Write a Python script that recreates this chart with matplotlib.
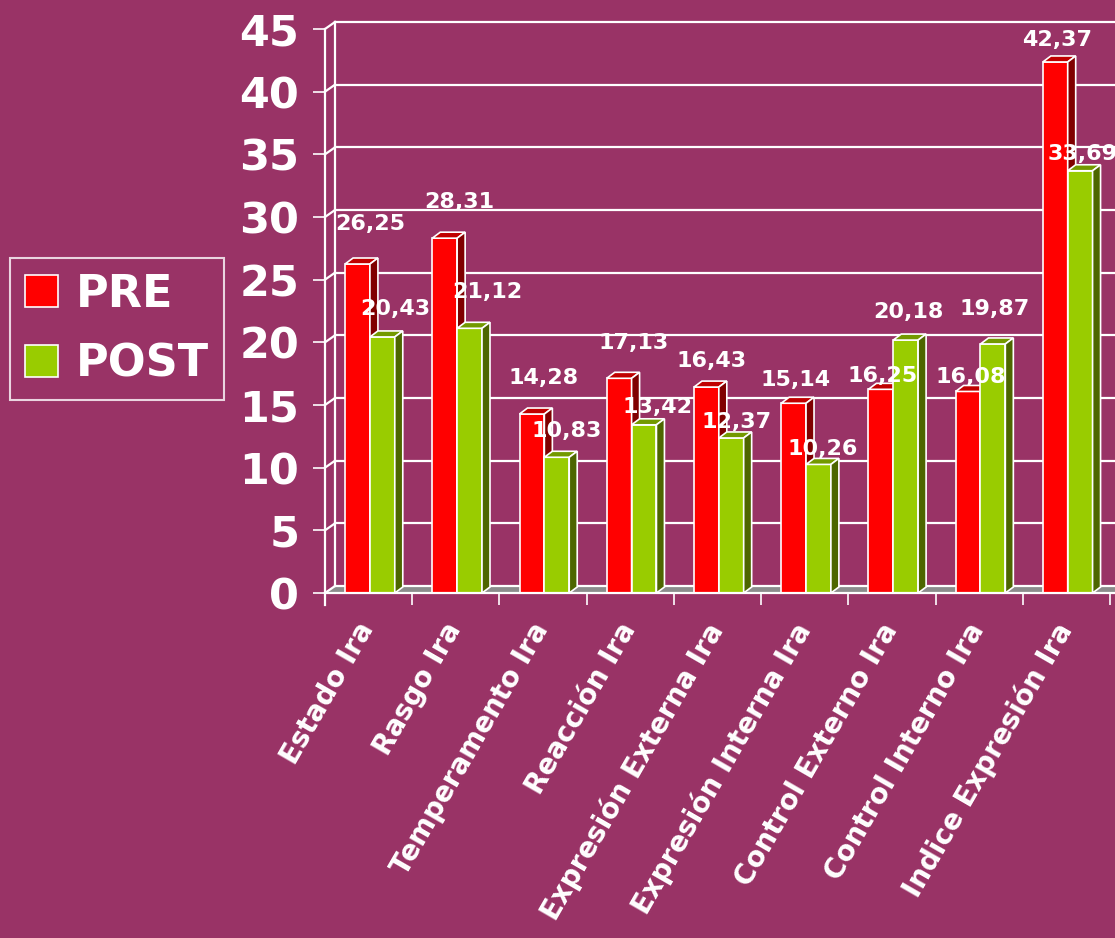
import matplotlib
matplotlib.use("Agg")
import matplotlib.pyplot as plt
from matplotlib.patches import Polygon, Patch
import matplotlib.transforms as mtransforms

# ---- data ----
categories = ["Estado Ira", "Rasgo Ira", "Temperamento Ira", "Reacción Ira",
              "Expresión Externa Ira", "Expresión Interna Ira",
              "Control Externo Ira", "Control Interno Ira", "Indice Expresión Ira"]
pre_values = [26.25, 28.31, 14.28, 17.13, 16.43, 15.14, 16.25, 16.08, 42.37]
post_values = [20.43, 21.12, 10.83, 13.42, 12.37, 10.26, 20.18, 19.87, 33.69]
series_names = ["PRE", "POST"]
y_ticks = [0, 5, 10, 15, 20, 25, 30, 35, 40, 45]

# value-label offsets (pixels: right, up) from bar front-top centre
pre_label_off = [(13, 40), (15, 36), (12, 36), (14, 35), (5, 26), (2, 23), (2, 13), (3, 14), (2, 22)]
post_label_off = [(13, 28), (18, 36), (10, 26), (13, 18), (5, 16), (4, 15), (3, 28), (2, 35), (2, 17)]

# ---- style ----
BG = "#993366"
RED, RED_TOP, RED_SIDE = "#ff0000", "#c00000", "#800000"
GRN, GRN_TOP, GRN_SIDE = "#99cc00", "#739900", "#4d6600"
FLOOR = "#8c8c8c"
W = 1115 / 100
H = 938 / 100

plt.rcParams["font.family"] = ["DejaVu Sans"]
plt.rcParams["font.weight"] = "bold"

fig = plt.figure(figsize=(W, H), dpi=100, facecolor=BG)
ax = fig.add_axes([325 / 1115, 345 / 938, 785 / 1115, 564 / 938])
ax.set_facecolor(BG)
ax.patch.set_alpha(0)
ax.set_xlim(0, 9)
ax.set_ylim(0, 45)
for s in ax.spines.values():
    s.set_visible(False)

# pixel -> data scale
px_x = 9 / 785.0
px_y = 45 / 564.0
wdx, wdy = 10 * px_x, 7 * px_y      # wall depth
bdx, bdy = 8 * px_x, 6 * px_y       # bar depth

lc = "white"
lw = 1.6

# floor
ax.add_patch(Polygon([(0, 0), (9.3, 0), (9.3 + wdx, wdy), (wdx, wdy)], closed=True,
                     facecolor=FLOOR, edgecolor="none", clip_on=False, zorder=1))
# back wall gridlines and left wall slants
for v in y_ticks:
    ax.plot([wdx, 9.4], [v + wdy, v + wdy], color=lc, lw=lw, clip_on=False, zorder=1.5)
    ax.plot([0, wdx], [v, v + wdy], color=lc, lw=lw, clip_on=False, zorder=1.5)
ax.plot([wdx, wdx], [wdy, 45 + wdy], color=lc, lw=lw, clip_on=False, zorder=1.5)
# front spine and floor front edge
ax.plot([0, 0], [-12 * px_y, 45], color=lc, lw=lw, clip_on=False, zorder=5)
ax.plot([0, 9.3], [0, 0], color=lc, lw=lw, clip_on=False, zorder=5)

# bars
x0s_pre = [i + 0.23 for i in range(len(categories))]
x0s_post = [i + 0.515 for i in range(len(categories))]
bw_pre = 0.285
bw_post = 0.285


def bar3d(x0, w, h, c_front, c_top, c_side, z):
    x1 = x0 + w
    ax.add_patch(Polygon([(x0, 0), (x1, 0), (x1, h), (x0, h)], closed=True,
                         facecolor=c_front, edgecolor=lc, lw=1.2, zorder=z, clip_on=False))
    ax.add_patch(Polygon([(x0, h), (x1, h), (x1 + bdx, h + bdy), (x0 + bdx, h + bdy)], closed=True,
                         facecolor=c_top, edgecolor=lc, lw=1.2, zorder=z, clip_on=False))
    ax.add_patch(Polygon([(x1, 0), (x1 + bdx, bdy), (x1 + bdx, h + bdy), (x1, h)], closed=True,
                         facecolor=c_side, edgecolor=lc, lw=1.2, zorder=z, clip_on=False))


for i in range(len(categories)):
    bar3d(x0s_pre[i], bw_pre, pre_values[i], RED, RED_TOP, RED_SIDE, 3)
    bar3d(x0s_post[i], bw_post, post_values[i], GRN, GRN_TOP, GRN_SIDE, 3.5)

# value labels
for i in range(len(categories)):
    for x0, w, vals, offs in ((x0s_pre[i], bw_pre, pre_values, pre_label_off),
                              (x0s_post[i], bw_post, post_values, post_label_off)):
        v = vals[i]
        dx, dy = offs[i]
        ax.annotate(f"{v:.2f}".replace(".", ","), xy=(x0 + w / 2, v),
                    xytext=(dx * 0.72, dy * 0.72), textcoords="offset points",
                    ha="center", va="center", color="white", fontsize=16,
                    fontweight="bold", zorder=10, annotation_clip=False)

# ticks
ax.set_yticks(y_ticks)
ax.set_yticklabels([str(t) for t in y_ticks])
ax.tick_params(axis="y", colors="white", direction="out", length=8.6, width=1.2,
               labelsize=31, pad=10)
ax.set_xticks(range(len(categories) + 1))
ax.set_xticklabels([])
ax.tick_params(axis="x", colors="white", direction="out", length=8.6, width=1.2)

# category labels
off = mtransforms.offset_copy(ax.transData, fig=fig, x=-13 * 0.72, y=-25 * 0.72, units="points")
for i, c in enumerate(categories):
    ax.text(i + 0.5, 0, c, transform=off, rotation=60, rotation_mode="anchor",
            ha="right", va="top", color="white", fontsize=20, fontweight="bold")

# legend
handles = [Patch(facecolor=RED, edgecolor="white", lw=1.2),
           Patch(facecolor=GRN, edgecolor="white", lw=1.2)]
leg = fig.legend(handles, series_names, loc="upper left",
                 bbox_to_anchor=(10 / 1115, 1 - 258 / 938), fontsize=32,
                 frameon=True, fancybox=False, facecolor=BG, edgecolor="white",
                 handlelength=0.75, handleheight=0.75, handletextpad=0.4,
                 borderpad=0.33, labelspacing=0.6, borderaxespad=0)
leg.get_frame().set_linewidth(1.5)
for t in leg.get_texts():
    t.set_color("white")
    t.set_fontweight("bold")

fig.savefig("out.png", dpi=100, facecolor=BG)
